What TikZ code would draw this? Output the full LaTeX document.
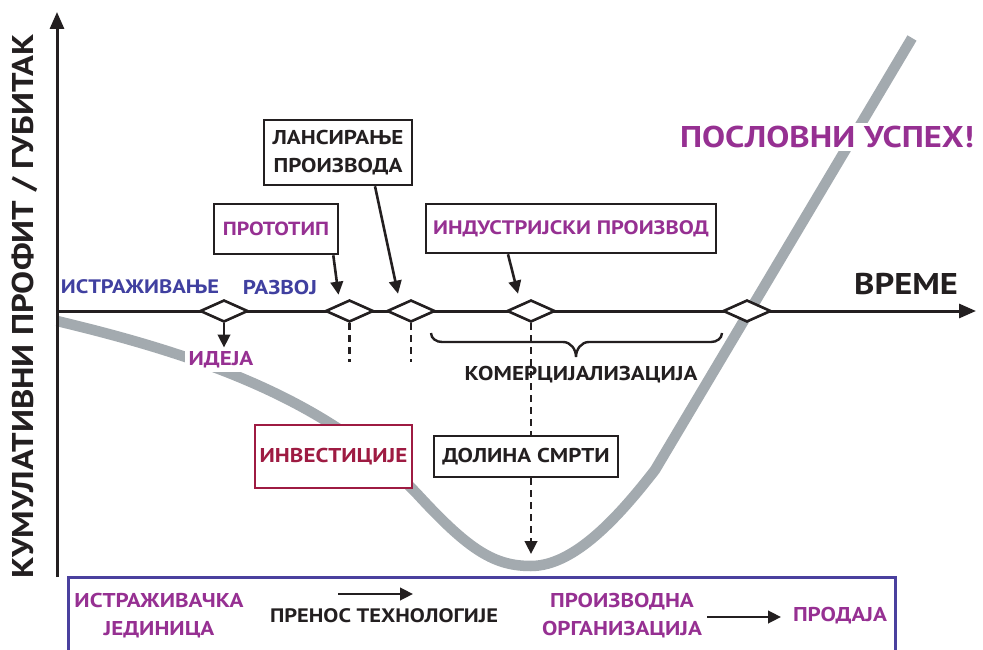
\documentclass[tikz,border=0pt]{standalone}
\usepackage{fontspec}
\setmainfont[FakeStretch=1.15]{PT Sans}
\usetikzlibrary{arrows.meta,shapes.geometric}
\definecolor{ink}{RGB}{35,31,32}
\definecolor{purp}{RGB}{150,48,146}
\definecolor{blu}{RGB}{64,64,160}
\definecolor{crim}{RGB}{158,27,66}
\definecolor{gry}{RGB}{163,170,175}
\definecolor{boxblue}{RGB}{74,64,158}
\newcommand\myfs[2]{\fontsize{#1}{#2}\selectfont\bfseries}
\tikzset{
  axisline/.style={line width=3pt, draw=ink, -{Triangle[length=17pt,width=14pt]}},
  tri/.style={line width=2.6pt, draw=ink, -{Triangle[length=13pt,width=12.5pt]}},
  tag/.style={draw=ink, line width=2.6pt, fill=white, inner sep=0pt, align=center},
  mstone/.style={diamond, draw=ink, line width=2.6pt, fill=white, minimum width=48pt, minimum height=22pt, inner sep=0pt},
  dsh/.style={line width=2.6pt, draw=ink, dash pattern=on 7pt off 5pt},
  lbl/.style={inner sep=1pt, align=center}
}
\begin{document}
\begin{tikzpicture}[x=1pt,y=-1pt]
\useasboundingbox (0,0) rectangle (983,650);
\clip (0,0) rectangle (983,650);
% curve
\draw[gry, line width=10.5pt] (57,321) .. controls (200,355) and (330,400) .. (420,497) .. controls (470,551) and (495,566) .. (531,566) .. controls (575,566) and (620,515) .. (655,470) -- (912,38);
% axes
\coordinate (o) at (57,577);
\coordinate (ytop) at (57,12);
\coordinate (tl) at (57,311);
\coordinate (tr) at (976,311);
\draw[axisline] (o) -- (ytop);
\draw[axisline] (tl) -- (tr);
% milestones
\node[mstone] (d1) at (224,311) {};
\node[mstone] (d2) at (349.5,311) {};
\node[mstone] (d3) at (411,311) {};
\node[mstone] (d4) at (531,311) {};
\node[mstone] (d5) at (747,311) {};
% axis labels
\node[lbl, rotate=90, font=\myfs{30}{30}, text=ink] (ylab) at (25,306) {КУМУЛАТИВНИ ПРОФИТ / ГУБИТАК};
\node[lbl, font=\myfs{30}{30}, text=ink] (time) at (906,284) {ВРЕМЕ};
\node[lbl, fill=white, inner sep=3pt, font=\myfs{30}{30}, text=purp] (succ) at (827,137) {ПОСЛОВНИ УСПЕХ!};
% phase labels
\node[lbl, font=\myfs{19.5}{20}, text=blu] (istr) at (140,287) {ИСТРАЖИВАЊЕ};
\node[lbl, font=\myfs{20}{20}, text=blu] (razv) at (280,287) {РАЗВОЈ};
\node[lbl, fill=white, inner sep=4pt, font=\myfs{20}{20}, text=purp] (idea) at (221,360) {ИДЕЈА};
\node[lbl, font=\myfs{20}{20}, text=ink] (kom) at (581,375) {КОМЕРЦИЈАЛИЗАЦИЈА};
% boxes
\node[tag, minimum width=124pt, minimum height=50pt, font=\myfs{19}{20}, text=purp] (proto) at (276,229) {ПРОТОТИП};
\node[tag, minimum width=148pt, minimum height=65pt, font=\myfs{20}{28}, text=ink] (lans) at (338,152.5) {ЛАНСИРАЊЕ\\ПРОИЗВОДА};
\node[tag, minimum width=290pt, minimum height=49pt, font=\myfs{19.5}{20}, text=purp] (ind) at (571,228.5) {ИНДУСТРИЈСКИ ПРОИЗВОД};
\node[tag, draw=crim, line width=2.2pt, minimum width=157pt, minimum height=63pt, font=\myfs{20}{20}, text=crim] (inv) at (333.5,456.5) {ИНВЕСТИЦИЈЕ};
\node[tag, minimum width=184pt, minimum height=41pt, font=\myfs{20}{20}, text=ink] (dol) at (526,456.5) {ДОЛИНА СМРТИ};
% brace
\draw[ink, line width=2.4pt] (431,333) to[out=-90,in=180] (442,342) -- (563,342) to[out=0,in=90] (576,357) to[out=90,in=180] (589,342) -- (711,342) to[out=0,in=-90] (722,333);
% connectors
\draw[tri] ([xshift=-6pt]proto.south east) -- ([shift={(-11,-4)}]d2.north);
\draw[tri] ([xshift=37pt]lans.south) -- ([shift={(-13,-5)}]d3.north);
\draw[tri] ([xshift=-63pt]ind.south) -- ([shift={(-13,-5)}]d4.north);
\draw[tri] (d1.south) -- (d1.south |- idea.north);
\coordinate (e2) at (349.5,362);
\coordinate (e3) at (411,362);
\draw[dsh] (d2.south) -- (e2);
\draw[dsh] (d3.south) -- (e3);
\draw[dsh] (d4.south) -- (d4.south |- dol.north);
\coordinate (valley) at (531,554);
\draw[dsh, -{Triangle[length=13pt,width=12.5pt]}] (d4.south |- dol.south) -- (valley);
% bottom organisation bar
\node[draw=boxblue, line width=2.6pt, anchor=north west, minimum width=827pt, minimum height=110pt, inner sep=0pt] (org) at (67,576) {};
\node[lbl, font=\myfs{20}{28}, text=purp] (unit) at (159,616) {ИСТРАЖИВАЧКА\\ЈЕДИНИЦА};
\node[lbl, font=\myfs{19.5}{20}, text=ink] (trans) at (384,616) {ПРЕНОС ТЕХНОЛОГИЈЕ};
\node[lbl, font=\myfs{20}{28}, text=purp] (prod) at (622,616) {ПРОИЗВОДНА\\ОРГАНИЗАЦИЈА};
\node[lbl, font=\myfs{20}{20}, text=purp] (sale) at (840,616) {ПРОДАЈА};
\coordinate (a1) at (338,594);
\coordinate (a2) at (413,594);
\coordinate (b1) at (707,617);
\coordinate (b2) at (781,617);
\draw[tri] (a1) -- (a2);
\draw[tri] (b1) -- (b2);
\end{tikzpicture}
\end{document}
